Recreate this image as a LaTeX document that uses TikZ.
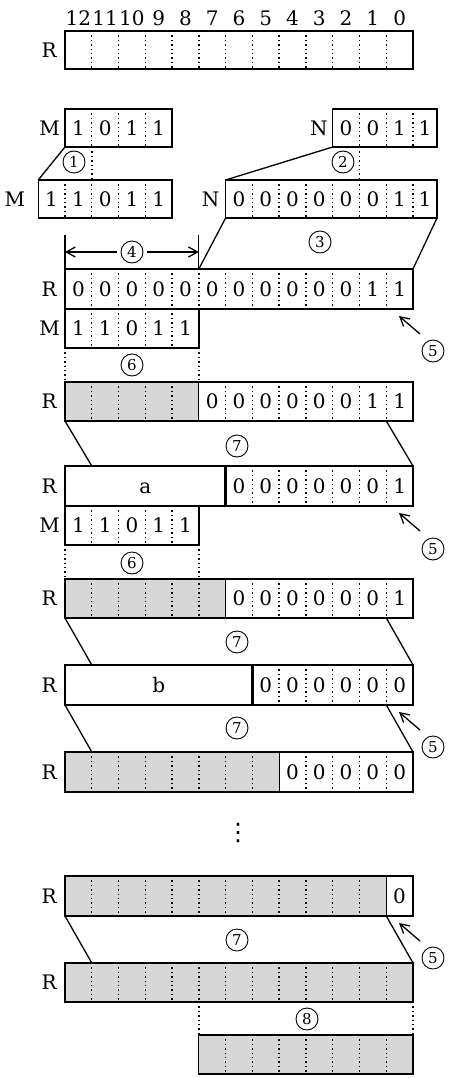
\documentclass[tikz,border=0pt]{standalone}
\usepackage{fontspec}
\setmainfont{DejaVu Serif}
\newfontfamily\symfont{DejaVu Sans}
\usetikzlibrary{arrows.meta}
\definecolor{shade}{gray}{0.84}
\begin{document}
\begin{tikzpicture}[x=1pt,y=-1pt,
  box/.style={draw, line width=1.3pt, inner sep=0pt, outer sep=0pt, anchor=north west},
  thick box/.style={box, line width=2.6pt},
  grayarea/.style={fill=shade, inner sep=0pt, outer sep=0pt, anchor=north west},
  div/.style={line width=1.4pt, dash pattern=on 1.4pt off 3pt},
  solidsep/.style={line width=1.3pt},
  lbl/.style={font=\fontsize{20}{20}\selectfont, inner sep=0pt, text height=14.6pt, text depth=0pt},
  circ/.style={circle, draw, line width=0.9pt, minimum size=22pt, inner sep=0pt, font=\fontsize{15}{15}\selectfont},
  link/.style={line width=1.3pt},
  ptr/.style={line width=1.3pt, -{Straight Barb[length=9pt,width=10pt]}},
  ulbar/.style={line width=2.8pt}
]
\useasboundingbox (0,0) rectangle (450,1078);

% ---- bit numbers and empty register
\foreach \b [count=\i from 0] in {12,11,10,9,8,7,6,5,4,3,2,1,0}
  \node[lbl] (bit\b) at ({65+26.77*(\i+0.5)},18) {\b};
\node[box, minimum width=348pt, minimum height=38pt] (r0) at (65,31) {};
\foreach \k in {1,...,12} \draw[div] ({65+26.77*\k},31) -- ({65+26.77*\k},69);
\node[lbl, anchor=east] (r0l) at ([xshift=-8pt]r0.west) {R};

% ---- M and N
\node[box, minimum width=107.08pt, minimum height=38pt] (m1) at (65,109) {};
\foreach \k in {1,2,3} \draw[div] ({65+26.77*\k},109) -- ({65+26.77*\k},147);
\foreach \v [count=\i from 0] in {1,0,1,1} \node[lbl] (m1d\i) at ({65+26.77*(\i+0.5)},128) {\v};
\node[lbl, anchor=east] (m1l) at ([xshift=-5pt]m1.west) {M};

\node[box, minimum width=104.3pt, minimum height=38pt] (n1) at (332.7,109) {};
\foreach \k in {11,12,13} \draw[div] ({65+26.77*\k},109) -- ({65+26.77*\k},147);
\foreach \v/\x [count=\i] in {0/346.1,0/372.9,1/399.6,1/425} \node[lbl] (n1d\i) at (\x,128) {\v};
\node[lbl, anchor=east] (n1l) at ([xshift=-5pt]n1.west) {N};

% ---- extended M and N
\node[box, minimum width=133.9pt, minimum height=38pt] (m2) at (38.2,180) {};
\foreach \k in {0,1,2,3} \draw[div] ({65+26.77*\k},180) -- ({65+26.77*\k},218);
\foreach \v/\x [count=\i] in {1/51.6,1/78.4,0/105.2,1/131.9,1/158.7} \node[lbl] (m2d\i) at (\x,199) {\v};
\node[lbl, anchor=east] (m2l) at ([xshift=-13pt]m2.west) {M};

\node[box, minimum width=211.4pt, minimum height=38pt] (n2) at (225.6,180) {};
\foreach \k in {7,...,13} \draw[div] ({65+26.77*\k},180) -- ({65+26.77*\k},218);
\foreach \v/\x [count=\i] in {0/239,0/265.8,0/292.6,0/319.3,0/346.1,0/372.9,1/399.6,1/425} \node[lbl] (n2d\i) at (\x,199) {\v};
\node[lbl, anchor=east] (n2l) at ([xshift=-6pt]n2.west) {N};

\draw[link] (m1.south west) -- (m2.north west);
\draw[link] (n1.south west) -- (n2.north west);
\draw[div] (91.8,147) -- (91.8,180);
\draw[div] (359.5,147) -- (359.5,180);
\node[circ] (c1) at (74,162) {1};
\node[circ] (c2) at (343,162) {2};

% ---- R with N copied
\node[box, minimum width=348pt, minimum height=40pt] (r1) at (65,269) {};
\coordinate (r1k5) at (198.8,269);
\foreach \k in {1,...,12} \draw[div] ({65+26.77*\k},269) -- ({65+26.77*\k},309);
\foreach \v [count=\i from 0] in {0,0,0,0,0,0,0,0,0,0,0,1,1} \node[lbl] (r1d\i) at ({65+26.77*(\i+0.5)},289) {\v};
\node[lbl, anchor=east] (r1l) at ([xshift=-8pt]r1.west) {R};
\draw[link] (n2.south west) -- (r1k5);
\draw[link] (n2.south east) -- (r1.north east);
\node[circ] (c3) at (320,242) {3};

% dimension 4
\coordinate (t4a) at (65,235);
\coordinate (t4b) at (198.8,235);
\draw[link] (t4a) -- (r1.north west);
\draw[link] (t4b) -- (r1k5);
\node[circ] (c4) at (132,252) {4};
\coordinate (a4l) at (65,252);
\coordinate (a4r) at (198.8,252);
\draw[ptr] ([xshift=-4pt]c4.west) -- (a4l);
\draw[ptr] ([xshift=4pt]c4.east) -- (a4r);

\draw[ulbar] (386.3,309) -- (413,309);
\node[box, minimum width=133.85pt, minimum height=39pt] (m3) at (65,309) {};
\foreach \k in {1,...,4} \draw[div] ({65+26.77*\k},309) -- ({65+26.77*\k},348);
\foreach \v [count=\i from 0] in {1,1,0,1,1} \node[lbl] (m3d\i) at ({65+26.77*(\i+0.5)},328.5) {\v};
\node[lbl, anchor=east] (m3l) at ([xshift=-5pt]m3.west) {M};
\node[circ] (c5a) at (433,351) {5};
\coordinate (p5a) at (399,316);
\draw[ptr] (420,334) -- (p5a);

% ---- step 6 (first)
\draw[div] (65,348) -- (65,382);
\draw[div] (198.8,348) -- (198.8,382);
\node[circ] (c6a) at (132,365) {6};

\node[grayarea, minimum width=133.85pt, minimum height=39pt] (g2) at (65,382) {};
\node[box, minimum width=348pt, minimum height=39pt] (r2) at (65,382) {};
\foreach \k in {1,2,3,4,6,7,8,9,10,11,12} \draw[div] ({65+26.77*\k},382) -- ({65+26.77*\k},421);
\draw[solidsep] (198.8,382) -- (198.8,421);
\foreach \v [count=\i from 5] in {0,0,0,0,0,0,1,1} \node[lbl] (r2d\i) at ({65+26.77*(\i+0.5)},401.5) {\v};
\node[lbl, anchor=east] (r2l) at ([xshift=-8pt]r2.west) {R};

% ---- step 7 -> a
\coordinate (r2k12) at (386.3,421);
\coordinate (r3k1) at (91.8,466);
\node[box, minimum width=348pt, minimum height=40pt] (r3) at (65,466) {};
\node[thick box, minimum width=160.62pt, minimum height=40pt] (ra) at (65,466) {};
\node[lbl] (atext) at (ra.center) {a};
\foreach \k in {7,...,12} \draw[div] ({65+26.77*\k},466) -- ({65+26.77*\k},506);
\foreach \v [count=\i from 6] in {0,0,0,0,0,0,1} \node[lbl] (r3d\i) at ({65+26.77*(\i+0.5)},486) {\v};
\node[lbl, anchor=east] (r3l) at ([xshift=-8pt]r3.west) {R};
\draw[link] (r2.south west) -- (r3k1);
\draw[link] (r2k12) -- (r3.north east);
\node[circ] (c7a) at (237,446) {7};
\draw[ulbar] (386.3,506) -- (413,506);

\node[box, minimum width=133.85pt, minimum height=39pt] (m4) at (65,506) {};
\foreach \k in {1,...,4} \draw[div] ({65+26.77*\k},506) -- ({65+26.77*\k},545);
\foreach \v [count=\i from 0] in {1,1,0,1,1} \node[lbl] (m4d\i) at ({65+26.77*(\i+0.5)},525.5) {\v};
\node[lbl, anchor=east] (m4l) at ([xshift=-5pt]m4.west) {M};
\node[circ] (c5b) at (433,549) {5};
\coordinate (p5b) at (399,513);
\draw[ptr] (420,531) -- (p5b);

% ---- step 6 (second)
\draw[div] (65,545) -- (65,579);
\draw[div] (198.8,545) -- (198.8,579);
\node[circ] (c6b) at (132,563) {6};

\node[grayarea, minimum width=160.62pt, minimum height=39pt] (g4) at (65,579) {};
\node[box, minimum width=348pt, minimum height=39pt] (r4) at (65,579) {};
\foreach \k in {1,2,3,4,5,7,8,9,10,11,12} \draw[div] ({65+26.77*\k},579) -- ({65+26.77*\k},618);
\draw[solidsep] (225.6,579) -- (225.6,618);
\foreach \v [count=\i from 6] in {0,0,0,0,0,0,1} \node[lbl] (r4d\i) at ({65+26.77*(\i+0.5)},598.5) {\v};
\node[lbl, anchor=east] (r4l) at ([xshift=-8pt]r4.west) {R};

% ---- step 7 -> b
\coordinate (r4k12) at (386.3,618);
\coordinate (r5k1) at (91.8,665);
\node[box, minimum width=348pt, minimum height=40pt] (r5) at (65,665) {};
\node[thick box, minimum width=187.39pt, minimum height=40pt] (rb) at (65,665) {};
\node[lbl] (btext) at (rb.center) {b};
\foreach \k in {8,...,12} \draw[div] ({65+26.77*\k},665) -- ({65+26.77*\k},705);
\foreach \v [count=\i from 7] in {0,0,0,0,0,0} \node[lbl] (r5d\i) at ({65+26.77*(\i+0.5)},685) {\v};
\node[lbl, anchor=east] (r5l) at ([xshift=-8pt]r5.west) {R};
\draw[link] (r4.south west) -- (r5k1);
\draw[link] (r4k12) -- (r5.north east);
\node[circ] (c7b) at (237,642) {7};
\draw[ulbar] (386.3,705) -- (413,705);
\node[circ] (c5c) at (433,747) {5};
\coordinate (p5c) at (399,712);
\draw[ptr] (420,730) -- (p5c);

% ---- step 7 -> next
\coordinate (r5k12) at (386.3,705);
\coordinate (r6k1) at (91.8,752);
\node[grayarea, minimum width=214.16pt, minimum height=40pt] (g6) at (65,752) {};
\node[box, minimum width=348pt, minimum height=40pt] (r6) at (65,752) {};
\foreach \k in {1,...,7,9,10,11,12} \draw[div] ({65+26.77*\k},752) -- ({65+26.77*\k},792);
\draw[solidsep] (279.2,752) -- (279.2,792);
\foreach \v [count=\i from 8] in {0,0,0,0,0} \node[lbl] (r6d\i) at ({65+26.77*(\i+0.5)},772) {\v};
\node[lbl, anchor=east] (r6l) at ([xshift=-8pt]r6.west) {R};
\draw[link] (r5.south west) -- (r6k1);
\draw[link] (r5k12) -- (r6.north east);
\node[circ] (c7c) at (237,728) {7};

% ---- ellipsis
\node[font=\symfont\fontsize{24}{24}\selectfont, inner sep=0pt] (dots) at (238,833) {⋮};

% ---- last shift
\node[grayarea, minimum width=321.24pt, minimum height=40pt] (g7) at (65,876) {};
\node[box, minimum width=348pt, minimum height=40pt] (r7) at (65,876) {};
\foreach \k in {1,...,11} \draw[div] ({65+26.77*\k},876) -- ({65+26.77*\k},916);
\draw[solidsep] (386.3,876) -- (386.3,916);
\node[lbl] (r7d12) at (399.6,896) {0};
\node[lbl, anchor=east] (r7l) at ([xshift=-8pt]r7.west) {R};
\draw[ulbar] (386.3,916) -- (413,916);
\node[circ] (c5d) at (433,958) {5};
\coordinate (p5d) at (399,923);
\draw[ptr] (420,941) -- (p5d);

\coordinate (r7k12) at (386.3,916);
\coordinate (r8k1) at (91.8,963);
\node[grayarea, minimum width=348pt, minimum height=39pt] (g8) at (65,963) {};
\node[box, minimum width=348pt, minimum height=39pt] (r8) at (65,963) {};
\foreach \k in {1,...,12} \draw[div] ({65+26.77*\k},963) -- ({65+26.77*\k},1002);
\node[lbl, anchor=east] (r8l) at ([xshift=-8pt]r8.west) {R};
\draw[link] (r7.south west) -- (r8k1);
\draw[link] (r7k12) -- (r8.north east);
\node[circ] (c7d) at (237,940) {7};

% ---- step 8
\draw[div] (198.8,1002) -- (198.8,1035);
\draw[div] (413,1002) -- (413,1035);
\node[circ] (c8) at (307,1019) {8};
\node[grayarea, minimum width=214.2pt, minimum height=39pt] (g9) at (198.8,1035) {};
\node[box, minimum width=214.2pt, minimum height=39pt] (r9) at (198.8,1035) {};
\foreach \k in {6,...,12} \draw[div] ({65+26.77*\k},1035) -- ({65+26.77*\k},1074);
\end{tikzpicture}
\end{document}
